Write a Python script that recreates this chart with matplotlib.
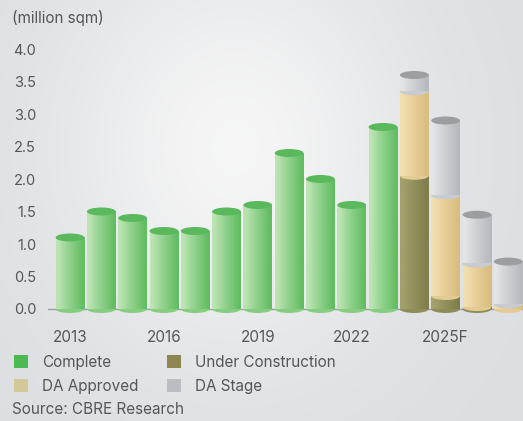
import numpy as np
import matplotlib
matplotlib.use("Agg")
import matplotlib.pyplot as plt
from matplotlib.patches import Ellipse, Patch
from matplotlib.colors import to_rgb

# -------------------------
# Data (million sqm)
# -------------------------
years = ["2013", "2014", "2015", "2016", "2017", "2018", "2019", "2020",
         "2021", "2022", "2023", "2024", "2025F", "2026F", "2027F"]
complete = [1.1, 1.5, 1.4, 1.2, 1.2, 1.5, 1.6, 2.4, 2.0, 1.6, 2.8, 0, 0, 0, 0]
under_construction = [0, 0, 0, 0, 0, 0, 0, 0, 0, 0, 0, 2.05, 0.2, 0.03, 0]
da_approved = [0, 0, 0, 0, 0, 0, 0, 0, 0, 0, 0, 1.3, 1.55, 0.67, 0.07]
da_stage = [0, 0, 0, 0, 0, 0, 0, 0, 0, 0, 0, 0.25, 1.15, 0.75, 0.66]
tick_years = ["2013", "2016", "2019", "2022", "2025F"]

# side gradient (left, right), top cap, legend swatch
styles = {
    "Complete": ("#bce4b3", "#62bd62", "#5bb95d", "#4cba50"),
    "Under Construction": ("#a3a16c", "#807f4c", "#8a8752", "#8d8650"),
    "DA Approved": ("#f2dfb0", "#d9bd80", "#e3c98e", "#d3c897"),
    "DA Stage": ("#e3e5e8", "#b6b9be", "#9c9ea2", "#babec2"),
}

TEXT = "#53575b"
plt.rcParams["font.family"] = ["Inter", "DejaVu Sans"]

W, H = 523, 421
fig = plt.figure(figsize=(W / 100, H / 100), dpi=100)

# -------------------------
# Background gradient
# -------------------------
bg = fig.add_axes([0, 0, 1, 1], zorder=-5)
gx = np.linspace(0, 1, 200)
gy = np.linspace(0, 1, 160)
X, Y = np.meshgrid(gx, gy)
light = 1 - 0.9 * np.exp(-((X - 0.45) ** 2) / 0.12 - ((Y - 0.35) ** 2) / 0.25)
light = np.clip(light, 0, 1)
c_edge = np.array(to_rgb("#dcdee1"))
c_mid = np.array(to_rgb("#f8f8f8"))
img = c_mid + (c_edge - c_mid) * light[..., None]
bg.imshow(img, extent=(0, 1, 0, 1), aspect="auto", interpolation="bicubic")
bg.axis("off")

# -------------------------
# Main axes
# -------------------------
px_unit = 65.0
y0_px = 309
ymin, ymax = -0.15, 4.0
ax_left_px = 48
x0_px, step_px = 70, 31.3
ax_bottom = (H - (y0_px - ymin * px_unit)) / H
ax_top = (H - (y0_px - ymax * px_unit)) / H
ax = fig.add_axes([ax_left_px / W, ax_bottom, 1 - ax_left_px / W, ax_top - ax_bottom])
ax.patch.set_alpha(0)

xmin = (ax_left_px - x0_px) / step_px
xmax = (W - x0_px) / step_px

bar_w = 0.92
cap_h = 8 / px_unit


def draw_segment(ax, x, bottom, height, style, is_top, z):
    left_c, right_c, top_c, _ = style
    lc, rc = np.array(to_rgb(left_c)), np.array(to_rgb(right_c))
    t = np.linspace(0, 1, 64)
    shade = np.clip(t * 1.15 - 0.1, 0, 1) ** 0.9
    grad = lc + (rc - lc) * shade[:, None]
    mid = lc + (rc - lc) * 0.6
    # rounded bottom
    ax.add_patch(Ellipse((x, bottom), bar_w, cap_h, facecolor=mid,
                         edgecolor="none", zorder=z))
    ax.imshow(grad[None, :, :], extent=(x - bar_w / 2, x + bar_w / 2, bottom, bottom + height),
              aspect="auto", interpolation="bilinear", zorder=z + 0.1)
    if is_top:
        ax.add_patch(Ellipse((x, bottom + height), bar_w, cap_h, facecolor=top_c,
                             edgecolor="none", zorder=z + 0.2))


series = [("Complete", complete), ("Under Construction", under_construction),
          ("DA Approved", da_approved), ("DA Stage", da_stage)]

for i in range(len(years)):
    vals = [(name, s[i]) for name, s in series if s[i] > 0]
    bottom = 0.0
    for k, (name, v) in enumerate(vals):
        draw_segment(ax, i, bottom, v, styles[name], k == len(vals) - 1, 2 + i * 0.01 + k)
        bottom += v

ax.plot([xmin, xmax], [0, 0], color="#9a9ea2", lw=1, zorder=1)

ax.set_xlim(xmin, xmax)
ax.set_ylim(ymin, ymax)
ax.set_aspect("auto")

ax.set_yticks(np.arange(0, 4.01, 0.5))
ax.set_yticklabels([f"{v:.1f}" for v in np.arange(0, 4.01, 0.5)])
ax.set_xticks([years.index(y) for y in tick_years])
ax.set_xticklabels(tick_years)
ax.tick_params(axis="y", length=0, pad=8.6, labelsize=10.5, labelcolor=TEXT)
ax.tick_params(axis="x", length=0, pad=8, labelsize=11, labelcolor=TEXT)
for sp in ax.spines.values():
    sp.set_visible(False)

fig.text(12 / W, 1 - 18 / H, "(million sqm)", fontsize=11, color=TEXT, va="center", ha="left")

handles = [Patch(facecolor=styles[n][3], edgecolor="none") for n in
           ["Complete", "DA Approved", "Under Construction", "DA Stage"]]
labels = ["Complete", "DA Approved", "Under Construction", "DA Stage"]
fig.legend(handles, labels, loc="upper left", bbox_to_anchor=(14 / W, 1 - 355 / H),
           ncol=2, frameon=False, fontsize=11, handlelength=0.9, handleheight=0.9,
           handletextpad=0.95, columnspacing=1.85, labelspacing=0.58, labelcolor=TEXT,
           borderaxespad=0, borderpad=0)

fig.text(12 / W, 1 - 409 / H, "Source: CBRE Research", fontsize=11, color=TEXT,
         va="center", ha="left")

fig.savefig("out.png", dpi=100)
